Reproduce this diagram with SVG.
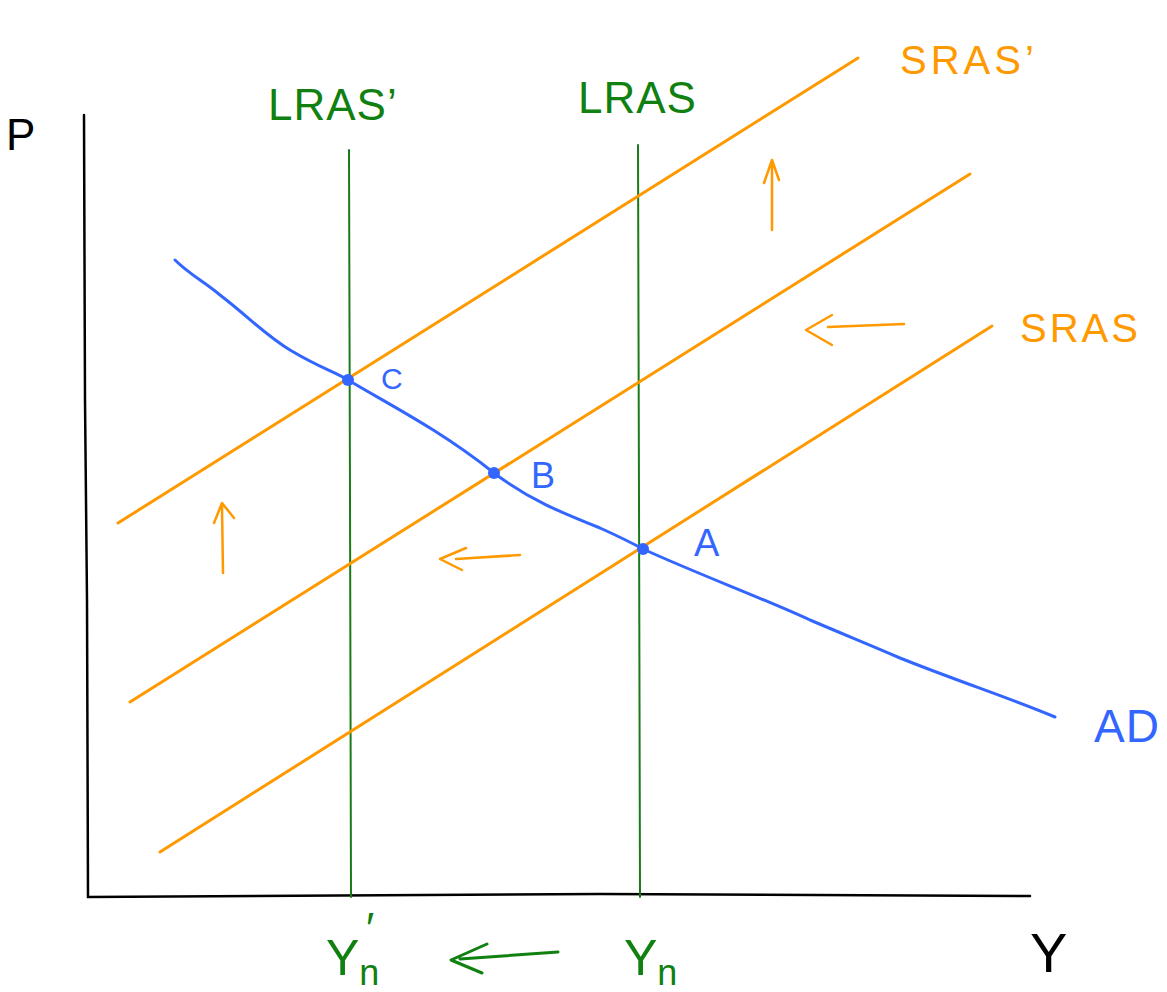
<svg xmlns="http://www.w3.org/2000/svg" width="1167" height="992" viewBox="0 0 1167 992">
<style>
.ax{fill:none;stroke:#000;stroke-width:2.5;stroke-linecap:round}
.lr{fill:none;stroke:#1a7a1a;stroke-width:2;stroke-linecap:round}
.sr{fill:none;stroke:#ff9900;stroke-width:3;stroke-linecap:round}
.ad{fill:none;stroke:#3366ff;stroke-width:3;stroke-linecap:round;stroke-linejoin:round}
.oa{fill:none;stroke:#ff9900;stroke-width:2.5;stroke-linecap:round;stroke-linejoin:round}
.ga{fill:none;stroke:#108010;stroke-width:3;stroke-linecap:round;stroke-linejoin:round}
.t{font-family:"Liberation Sans",Arial,sans-serif;font-weight:normal}
.tg{fill:#108010}
.to{fill:#ff9900}
.tb{fill:#3366ff}
.tk{fill:#000}
</style>
<g id="axes">
<path class="ax" d="M84,115 L85,400 L87,600 L88,897 L600,894 L1030,896"/>
</g>
<g id="axis-labels">
<text class="t tk" x="6" y="150" font-size="44">P</text>
<text class="t tk" x="1030" y="972" font-size="56">Y</text>
</g>
<g id="connectors">
<path class="lr" d="M349,150 L350,500 L351,897"/>
<path class="lr" d="M638,145 L639,500 L640,897"/>
<path class="sr" d="M118,523 L858,58"/>
<path class="sr" d="M130,702 L970,174"/>
<path class="sr" d="M160,852 L992,326"/>
<path class="ad" d="M175,260 C190,275 205,282 220,295 C250,318 265,335 290,350 C320,368 335,372 348,380 C390,405 440,430 494,473 C530,500 560,512 600,528 C620,537 630,542 643,549 C700,575 760,597 810,620 C850,637 870,645 900,658 C960,682 1010,698 1055,717"/>
<path class="oa" d="M772,230 L772,162 M764,183 L772,160 L779,180"/>
<path class="oa" d="M904,324 L828,327 M832,315 L806,330 L832,345"/>
<path class="oa" d="M223,573 L222,506 M214,523 L222,503 L234,518"/>
<path class="oa" d="M520,555 L456,559 M466,548 L440,559 L462,570"/>
<path class="ga" d="M558,952 L460,959 M487,944 L451,960 L482,973"/>
</g>
<g id="node-C">
<circle cx="348" cy="380" r="6" fill="#3366ff"/>
<text class="t tb" x="381" y="389" font-size="30">C</text>
</g>
<g id="node-B">
<circle cx="494" cy="473" r="6" fill="#3366ff"/>
<text class="t tb" x="531" y="488" font-size="36">B</text>
</g>
<g id="node-A">
<circle cx="643" cy="549" r="6" fill="#3366ff"/>
<text class="t tb" x="694" y="556" font-size="38">A</text>
</g>
<g id="label-LRASp">
<text class="t tg" x="268" y="120" font-size="44" letter-spacing="1">LRAS’</text>
</g>
<g id="label-LRAS">
<text class="t tg" x="578" y="113" font-size="44" letter-spacing="1">LRAS</text>
</g>
<g id="label-SRASp">
<text class="t to" x="900" y="74" font-size="40" letter-spacing="4">SRAS’</text>
</g>
<g id="label-SRAS">
<text class="t to" x="1020" y="342" font-size="40" letter-spacing="3">SRAS</text>
</g>
<g id="label-AD">
<text class="t tb" x="1094" y="742" font-size="46" letter-spacing="1">AD</text>
</g>
<g id="label-Ynp">
<text class="t tg" x="326" y="975" font-size="50">Y<tspan font-size="36" dy="10">n</tspan></text>
<text class="t tg" x="366" y="944" font-size="44">′</text>
</g>
<g id="label-Yn">
<text class="t tg" x="624" y="975" font-size="50">Y<tspan font-size="36" dy="10">n</tspan></text>
</g>
</svg>
